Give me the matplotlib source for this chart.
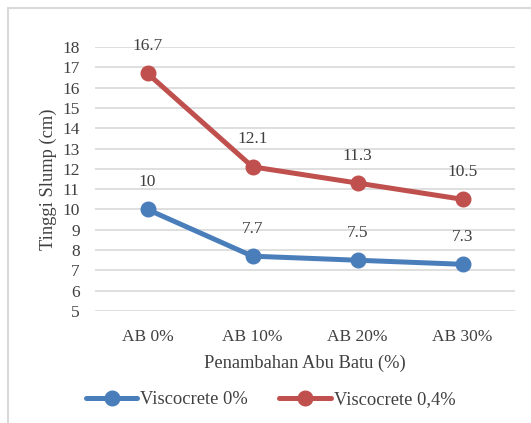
import matplotlib
matplotlib.use("Agg")
import matplotlib.pyplot as plt
from matplotlib.patches import Rectangle

categories = ["AB 0%", "AB 10%", "AB 20%", "AB 30%"]
visc_0 = [10, 7.7, 7.5, 7.3]
visc_04 = [16.7, 12.1, 11.3, 10.5]
series_names = ["Viscocrete 0%", "Viscocrete 0,4%"]
yticks = list(range(5, 19))

plt.rcParams['font.family'] = ['Liberation Serif', 'DejaVu Serif']
fs = 12.5
fs2 = 13.3
fig = plt.figure(figsize=(5.31, 4.23), dpi=100)
fig.patches.append(Rectangle((8/531, -0.1), 1.2, 1 - 8/423 + 0.1, transform=fig.transFigure,
                             fill=False, edgecolor='#d9d9d9', linewidth=1.5))
ax = fig.add_axes([95/531, 1 - 311/423, (515 - 95)/531, (311 - 47)/423])

blue = '#4a7ebb'
red = '#c0504d'
x = list(range(len(categories)))
for vals, col, name in [(visc_0, blue, series_names[0]), (visc_04, red, series_names[1])]:
    ax.plot(x, vals, color=col, lw=3.6, marker='o', ms=10.5, label=name, solid_capstyle='round')
    for xi, v in zip(x, vals):
        ax.annotate(f"{v:g}", (xi, v), xytext=(0, 14), textcoords='offset points',
                    ha='center', va='bottom', fontsize=fs, color='#404040')

ax.set_xlim(-0.5, 3.5)
ax.set_ylim(5, 18)
ax.set_yticks(yticks)
ax.set_xticks(x)
ax.set_xticklabels(categories)
ax.grid(axis='y', color='#d9d9d9', lw=1.2)
ax.set_axisbelow(True)
for s in ax.spines.values():
    s.set_visible(False)
ax.tick_params(length=0, labelsize=fs, labelcolor='#404040')
ax.tick_params(axis='y', pad=11)
ax.tick_params(axis='x', pad=13)
ax.set_xlabel("Penambahan Abu Batu (%)", fontsize=fs2, color='#404040', labelpad=7)
ax.set_ylabel("Tinggi Slump (cm)", fontsize=fs2, color='#404040', labelpad=4)
leg = ax.legend(loc='upper center', bbox_to_anchor=(0.418, -0.24), ncol=2, frameon=False,
                fontsize=fs2, handlelength=2.8, columnspacing=1.7, handletextpad=0.15, labelcolor='#404040')
fig.savefig("out.png", dpi=100)
